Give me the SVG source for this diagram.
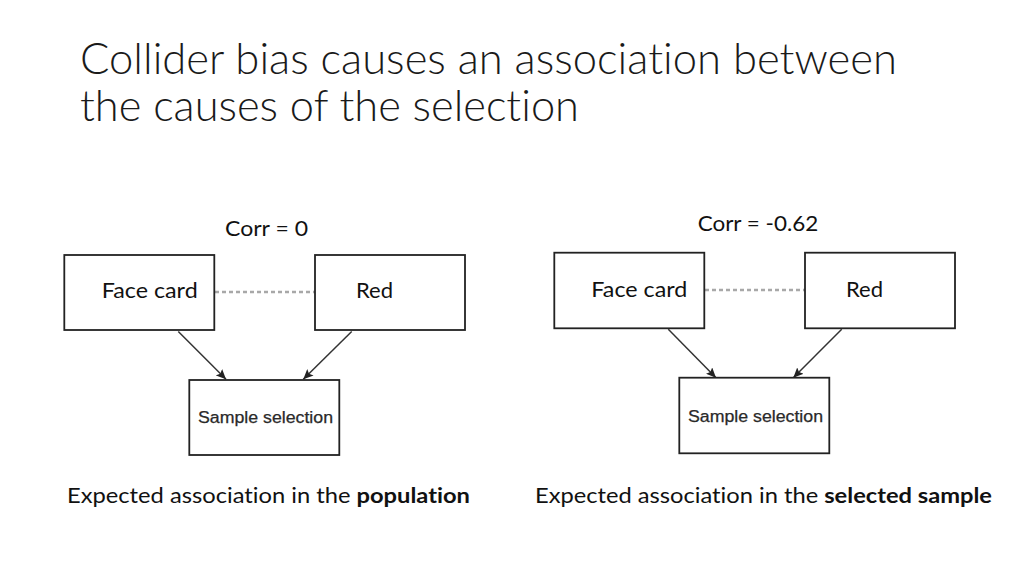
<svg xmlns="http://www.w3.org/2000/svg" width="1024" height="576" viewBox="0 0 1024 576">
<style>
.bg{fill:#ffffff}
text{font-variant-ligatures:none}
.box{fill:#ffffff;stroke:#222222;stroke-width:1.8}
.t{font-family:Lato,"Liberation Sans",sans-serif;font-size:22px;fill:#111111}
.title{font-family:Lato,"Liberation Sans",sans-serif;font-weight:300;font-size:44px;fill:#1a1a1a}
.ss{font-family:"Liberation Sans",Arial,sans-serif;font-size:16px;fill:#2a2a2a;stroke:#2a2a2a;stroke-width:0.25}
.dot{stroke:#a8a8a8;stroke-width:2.5;stroke-dasharray:4 3;fill:none}
.arr{stroke:#333333;stroke-width:1.5;fill:none;marker-end:url(#ah)}
.cap{font-family:Lato,"Liberation Sans",sans-serif;font-size:21px;fill:#111111}
</style>
<defs>
<marker id="ah" markerUnits="userSpaceOnUse" markerWidth="10" markerHeight="9" refX="10" refY="4.5" orient="auto">
<path d="M0,0 L10,4.5 L0,9 L2,4.5 z" fill="#222222"/>
</marker>
</defs>
<rect class="bg" x="0" y="0" width="1024" height="576"/>
<g id="title">
<text class="title" x="80" y="74" textLength="817" lengthAdjust="spacingAndGlyphs">Collider bias causes an association between</text>
<text class="title" x="80" y="121" textLength="499" lengthAdjust="spacingAndGlyphs">the causes of the selection</text>
</g>
<g id="connectors">
<line class="dot" x1="215" y1="292" x2="315" y2="292"/>
<line class="arr" x1="178.3" y1="331.5" x2="226" y2="379.3"/>
<line class="arr" x1="351.7" y1="331.5" x2="303.3" y2="379.3"/>
<line class="dot" x1="705" y1="290" x2="805" y2="290"/>
<line class="arr" x1="668.3" y1="329.3" x2="716" y2="377.7"/>
<line class="arr" x1="841.7" y1="329.3" x2="793.3" y2="377.7"/>
</g>
<g id="left-corr"><text class="t" x="225" y="235.7" textLength="83" lengthAdjust="spacingAndGlyphs">Corr = 0</text></g>
<g id="left-face">
<rect class="box" x="64.3" y="255" width="150" height="75"/>
<text class="t" x="101.7" y="298.3" textLength="96" lengthAdjust="spacingAndGlyphs">Face card</text>
</g>
<g id="left-red">
<rect class="box" x="315" y="255" width="150" height="75"/>
<text class="t" x="356" y="298.3" textLength="37" lengthAdjust="spacingAndGlyphs">Red</text>
</g>
<g id="left-sample">
<rect class="box" x="189.3" y="380" width="150" height="75"/>
<text class="ss" x="198" y="423" textLength="135" lengthAdjust="spacingAndGlyphs">Sample selection</text>
</g>
<g id="right-corr"><text class="t" x="697.7" y="230.7" textLength="120.6" lengthAdjust="spacingAndGlyphs">Corr = -0.62</text></g>
<g id="right-face">
<rect class="box" x="554.3" y="252.7" width="150" height="75.6"/>
<text class="t" x="591.3" y="296.7" textLength="96" lengthAdjust="spacingAndGlyphs">Face card</text>
</g>
<g id="right-red">
<rect class="box" x="805" y="252.7" width="150" height="75.6"/>
<text class="t" x="846" y="296.7" textLength="37" lengthAdjust="spacingAndGlyphs">Red</text>
</g>
<g id="right-sample">
<rect class="box" x="679.3" y="377.7" width="150" height="75.6"/>
<text class="ss" x="688" y="421.7" textLength="135" lengthAdjust="spacingAndGlyphs">Sample selection</text>
</g>
<g id="captions">
<text class="cap" x="67" y="503" textLength="403" lengthAdjust="spacingAndGlyphs">Expected association in the <tspan font-weight="bold">population</tspan></text>
<text class="cap" x="535" y="503" textLength="457" lengthAdjust="spacingAndGlyphs">Expected association in the <tspan font-weight="bold">selected sample</tspan></text>
</g>
</svg>
